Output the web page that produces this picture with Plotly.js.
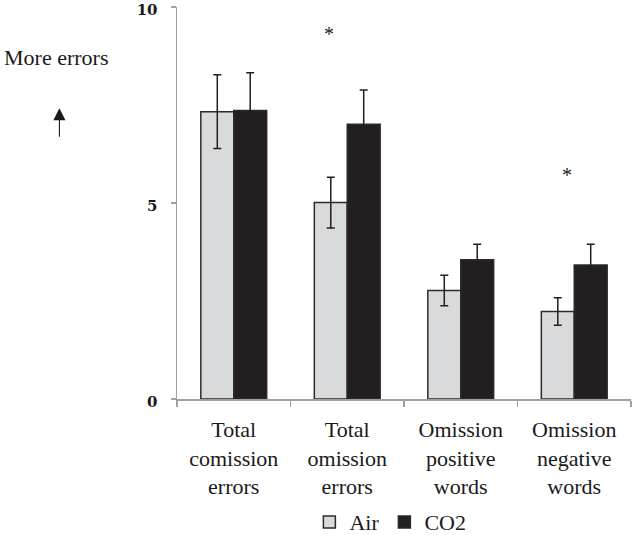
<!DOCTYPE html>
<html>
<head>
<meta charset="utf-8">
<script src="https://cdn.plot.ly/plotly-3.0.1.min.js"></script>
<style>html,body{margin:0;padding:0;background:#fff;}#chart{width:633px;height:535px;}</style>
</head>
<body>
<div id="chart"></div>
<script>
const categories = ["Total<br>comission<br>errors", "Total<br>omission<br>errors", "Omission<br>positive<br>words", "Omission<br>negative<br>words"];
const airValues = [7.33, 5.01, 2.77, 2.23];
const airErrors = [0.94, 0.65, 0.39, 0.35];
const co2Values = [7.36, 7.01, 3.55, 3.42];
const co2Errors = [0.96, 0.87, 0.40, 0.53];
const yTickValues = [0, 5, 10];
const yTickLabels = ["0", "5", "10"];
const starCategories = [1, 3];
const starValues = [9.31, 5.71];

const serif = "Liberation Serif, Times New Roman, serif";

const traces = [
  {
    type: "bar", name: "Air", x: categories, y: airValues,
    marker: {color: "#d9dadb", line: {color: "#2b2b2b", width: 1.5}},
    error_y: {type: "data", array: airErrors, visible: true, color: "#231f20", thickness: 1.5, width: 4}
  },
  {
    type: "bar", name: "CO2", x: categories, y: co2Values,
    marker: {color: "#231f20", line: {color: "#2b2b2b", width: 1.5}},
    error_y: {type: "data", array: co2Errors, visible: true, color: "#231f20", thickness: 1.5, width: 4}
  }
];

const annotations = starCategories.map((ci, i) => ({
  x: categories[ci], y: starValues[i], xref: "x", yref: "y",
  text: "*", showarrow: false, xshift: i === 0 ? -18 : -7,
  font: {family: serif, size: 20, color: "#1a1a1a"}
}));
annotations.push({
  xref: "paper", yref: "paper", x: -0.385, y: 0.87, xanchor: "left", yanchor: "middle",
  text: "More errors", showarrow: false, font: {family: serif, size: 22, color: "#1a1a1a"}
});
annotations.push({
  xref: "paper", yref: "paper", x: -0.259, y: 0.742, text: "", showarrow: true,
  ax: 0, ay: 30, arrowhead: 2, arrowsize: 2.2, arrowwidth: 1.1, arrowcolor: "#1a1a1a"
});

const layout = {
  width: 633, height: 535,
  margin: {l: 177, r: 2, t: 7, b: 136, autoexpand: false},
  paper_bgcolor: "#fff", plot_bgcolor: "#fff",
  barmode: "group", bargap: 0.42, bargroupgap: 0,
  showlegend: true,
  legend: {orientation: "h", x: 0.47, xanchor: "center", y: -0.314, yanchor: "middle",
           font: {family: serif, size: 22, color: "#1a1a1a"}, itemwidth: 30, traceorder: "normal"},
  xaxis: {
    type: "category", tickson: "boundaries", ticks: "outside", ticklen: 6, tickcolor: "#a0a0a0", tickwidth: 1.2,
    showline: true, linecolor: "#a0a0a0", linewidth: 1.5, showgrid: false, zeroline: false, automargin: false,
    ticklabelstandoff: 10,
    tickfont: {family: serif, size: 22, color: "#1a1a1a"}, range: [-0.5, 3.5]
  },
  yaxis: {
    range: [0, 10.0001], tickvals: yTickValues, ticktext: yTickLabels, ticks: "outside", ticklen: 5,
    tickcolor: "#a0a0a0", tickwidth: 1.2, showline: true, linecolor: "#a0a0a0", linewidth: 1.5,
    showgrid: false, zeroline: false, ticklabelstandoff: 10, automargin: false, ticklabeloverflow: "allow",
    ticklabelshift: 3,
    tickfont: {family: "DejaVu Serif, serif", size: 15, color: "#1a1a1a", weight: "bold"}
  },
  annotations: annotations
};

Plotly.newPlot("chart", traces, layout, {displayModeBar: false, staticPlot: true});
</script>
</body>
</html>
